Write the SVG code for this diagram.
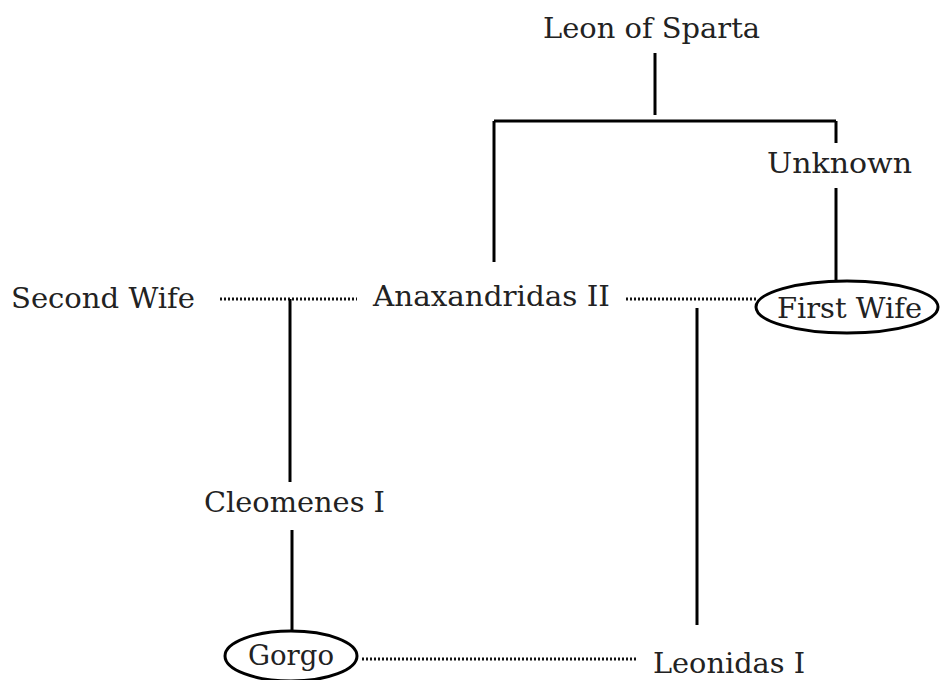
<svg xmlns="http://www.w3.org/2000/svg" width="940" height="680" viewBox="0 0 940 680">
<style>
text{font-family:"DejaVu Serif","Liberation Serif",serif;font-size:28px;fill:#222}
.solid{stroke:#000;stroke-width:3;fill:none}
.dot{stroke:#111;stroke-width:3;stroke-dasharray:2 2;fill:none}
.ell{stroke:#000;stroke-width:3;fill:#fff}
</style>
<rect width="940" height="680" fill="#fff"/>
<g id="connectors">
<line class="solid" x1="655" y1="53" x2="655" y2="115"/>
<line class="solid" x1="494" y1="121" x2="836" y2="121"/>
<line class="solid" x1="494" y1="121" x2="494" y2="262"/>
<line class="solid" x1="836" y1="121" x2="836" y2="143"/>
<line class="solid" x1="836" y1="188" x2="836" y2="281"/>
<line class="dot" x1="220" y1="299" x2="357" y2="299"/>
<line class="solid" x1="290" y1="299" x2="290" y2="482"/>
<line class="dot" x1="626" y1="299" x2="756" y2="299"/>
<line class="solid" x1="697" y1="308" x2="697" y2="625"/>
<line class="solid" x1="292" y1="530" x2="292" y2="632"/>
<line class="dot" x1="362" y1="659" x2="636" y2="659"/>
</g>
<g id="leon"><text x="543" y="38" textLength="217" lengthAdjust="spacingAndGlyphs">Leon of Sparta</text></g>
<g id="unknown"><text x="767" y="173" textLength="145" lengthAdjust="spacingAndGlyphs">Unknown</text></g>
<g id="second-wife"><text x="11" y="308" textLength="184" lengthAdjust="spacingAndGlyphs">Second Wife</text></g>
<g id="anaxandridas"><text x="373" y="306" textLength="237" lengthAdjust="spacingAndGlyphs">Anaxandridas II</text></g>
<g id="first-wife"><ellipse class="ell" cx="847" cy="307" rx="91" ry="26"/><text x="777" y="318" textLength="145" lengthAdjust="spacingAndGlyphs">First Wife</text></g>
<g id="cleomenes"><text x="204" y="512" textLength="181" lengthAdjust="spacingAndGlyphs">Cleomenes I</text></g>
<g id="gorgo"><ellipse class="ell" cx="291" cy="656" rx="66" ry="25"/><text x="248" y="665" textLength="86" lengthAdjust="spacingAndGlyphs">Gorgo</text></g>
<g id="leonidas"><text x="653" y="673" textLength="152" lengthAdjust="spacingAndGlyphs">Leonidas I</text></g>
</svg>
